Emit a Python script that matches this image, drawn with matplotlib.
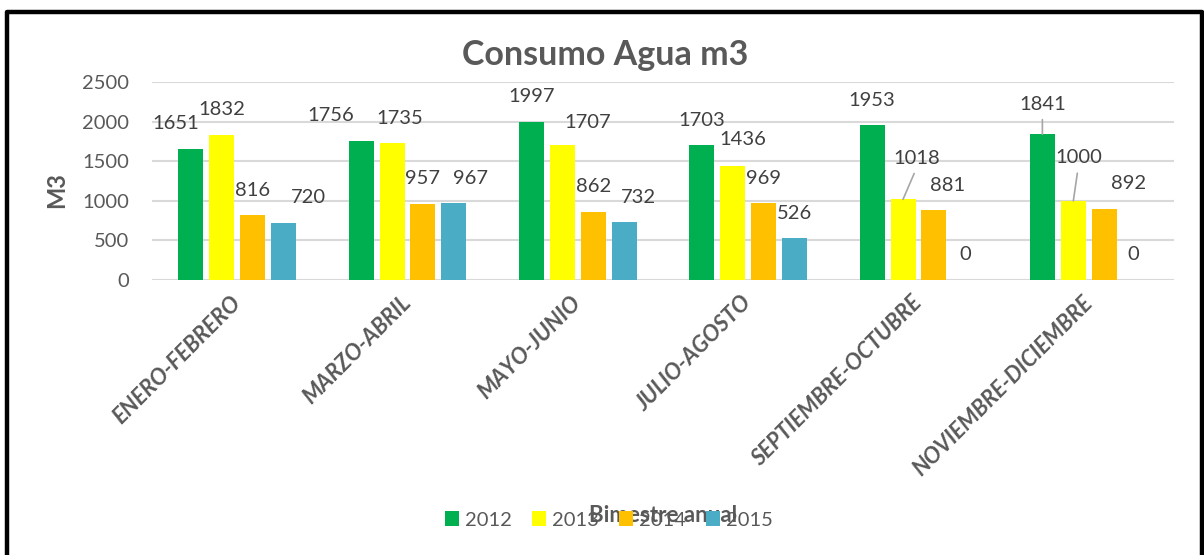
import numpy as np
import matplotlib
matplotlib.use("Agg")
import matplotlib.pyplot as plt
from matplotlib.patches import Patch
from matplotlib.lines import Line2D

# Water consumption per two-month period (m3)
periods = ["ENERO-FEBRERO", "MARZO-ABRIL", "MAYO-JUNIO", "JULIO-AGOSTO",
           "SEPTIEMBRE-OCTUBRE", "NOVIEMBRE-DICIEMBRE"]
years = ["2012", "2013", "2014", "2015"]
v2012 = [1651, 1756, 1997, 1703, 1953, 1841]
v2013 = [1832, 1735, 1707, 1436, 1018, 1000]
v2014 = [816, 957, 862, 969, 881, 892]
v2015 = [720, 967, 732, 526, 0, 0]
y_ticks = [0, 500, 1000, 1500, 2000, 2500]

series = [v2012, v2013, v2014, v2015]
colors = ["#00B050", "#FFFF00", "#FFC000", "#4BACC6"]

# label placement (pixel offsets from the top centre of each bar)
label_dx = [[-15, 0, 0, 25], [-30, 8, 0, 17], [0, 25, 0, 14],
            [0, 10, 0, 0], [0, 14, 14, 0], [0, 5, 24, -2]]
label_dy = [[26, 25, 25, 25], [25, 24, 26, 25], [25, 22, 25, 25],
            [25, 27, 25, 25], [25, 41, 25, 25], [30, 43, 26, 25]]
leaders = {(4, 1), (5, 0), (5, 1)}

FONT = "Lato"
plt.rcParams["font.family"] = [FONT, "DejaVu Sans"]
TXT = "#595959"
LBL = "#404040"

W, H = 1204, 555
fig = plt.figure(figsize=(W / 100, H / 100), dpi=100)
left, right, top, bottom = 152, 1174, 82, 280
ax = fig.add_axes([left / W, 1 - bottom / H, (right - left) / W, (bottom - top) / H])

x = np.arange(len(periods))
step, width = 0.1818, 0.1466
for i, (vals, col) in enumerate(zip(series, colors)):
    xs = x + (i - 1.5) * step
    ax.bar(xs, vals, width=width, color=col, zorder=3)
    for g, (xx, v) in enumerate(zip(xs, vals)):
        dx, dy = label_dx[g][i], label_dy[g][i]
        kw = {}
        if (g, i) in leaders:
            kw["arrowprops"] = dict(arrowstyle="-", color="#A6A6A6", lw=1.2,
                                    shrinkA=3, shrinkB=0, relpos=(0.5, 0.0))
        ax.annotate(str(v), xy=(xx, v), xytext=(dx, dy), textcoords="offset pixels",
                    ha="center", va="center", fontsize=14.5, color=LBL,
                    annotation_clip=False, **kw)

ax.set_xlim(-0.5, len(periods) - 0.5)
ax.set_ylim(0, 2500)
ax.set_yticks(y_ticks)
ax.set_yticklabels([str(t) for t in y_ticks], fontsize=14.5, color=TXT)
ax.tick_params(axis="y", length=0, pad=16.5)
ax.tick_params(axis="x", length=0, pad=14)
ax.set_xticks(x)
ax.set_xticklabels(periods, rotation=45, ha="right", va="center",
                   rotation_mode="anchor", fontsize=16, fontweight="bold",
                   fontstyle="italic", color=TXT)
ax.grid(axis="y", color="#D9D9D9", lw=1.5, zorder=0)
for s in ax.spines.values():
    s.set_visible(False)

fig.text(605 / W, 1 - 55 / H, "Consumo Agua m3", ha="center", va="center",
         fontsize=24.5, fontweight="bold", color=TXT)
fig.text(57 / W, 1 - 190 / H, "M3", ha="center", va="center", rotation=90,
         fontsize=17, fontweight="bold", color=TXT)
fig.text(663 / W, 1 - 515 / H, "Bimestre anual", ha="center", va="center",
         fontsize=16, fontweight="bold", color=TXT)

handles = [Patch(facecolor=c, edgecolor="none") for c in colors]
leg = fig.legend(handles, years, loc="center", bbox_to_anchor=(609 / W, 1 - 520 / H),
                 ncol=4, frameon=False, fontsize=14.5, handlelength=0.7,
                 handleheight=0.7, handletextpad=0.3, columnspacing=1.0,
                 borderpad=0, borderaxespad=0)
for t in leg.get_texts():
    t.set_color(TXT)

# outer frame (open at the bottom)
bx0, bx1, by0 = 6.5 / W, 1201.5 / W, 1 - 11.5 / H
fig.add_artist(Line2D([bx0, bx0, bx1, bx1], [-0.01, by0, by0, -0.01],
                      transform=fig.transFigure, color="black", lw=3.2))

fig.savefig("out.png", dpi=100)
